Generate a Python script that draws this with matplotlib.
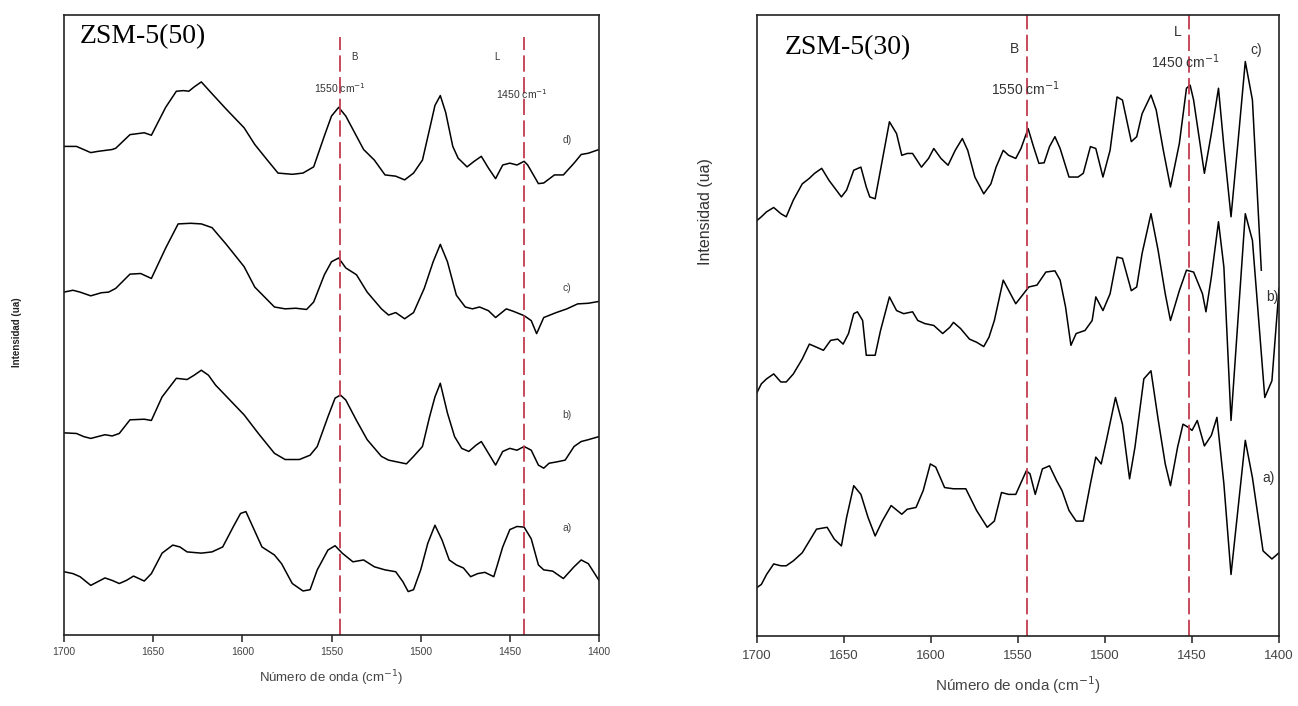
import numpy as np
import matplotlib
matplotlib.use("Agg")
import matplotlib.pyplot as plt

plt.rcParams['font.family'] = ['Liberation Sans', 'DejaVu Sans']

# ---- ZSM-5(50) spectra (wavenumber, intensity in arbitrary units) ----
d50_x = [1700, 1693, 1685, 1681, 1673, 1671, 1663, 1655, 1651, 1643, 1637, 1633, 1630, 1627, 1623,
         1617, 1609, 1599, 1593, 1586, 1580, 1572, 1566, 1560, 1554, 1550, 1546, 1542, 1532, 1526,
         1520, 1514, 1509, 1504, 1499, 1495, 1492, 1489, 1486, 1482, 1479, 1474, 1470, 1466, 1462,
         1458, 1454, 1450, 1446, 1442, 1440, 1434, 1431, 1425, 1420, 1414, 1410, 1406, 1400]
d50_y = [78.8, 78.8, 77.8, 78.0, 78.3, 78.5, 80.7, 81.0, 80.6, 85.1, 87.7, 87.8, 87.7, 88.4, 89.2,
         87.3, 84.8, 81.8, 79.1, 76.6, 74.5, 74.3, 74.5, 75.5, 80.5, 83.7, 85.1, 83.7, 78.3, 76.6,
         74.2, 74.0, 73.4, 74.5, 76.6, 81.6, 85.4, 87.0, 84.3, 78.8, 76.9, 75.5, 76.4, 77.2, 75.3,
         73.6, 75.8, 76.1, 75.8, 76.4, 75.8, 72.8, 72.9, 74.2, 74.2, 76.1, 77.5, 77.7, 78.3]

c50_x = [1700, 1695, 1691, 1685, 1679, 1675, 1671, 1663, 1657, 1651, 1643, 1636, 1629, 1623, 1617,
         1609, 1599, 1593, 1582, 1576, 1570, 1564, 1560, 1554, 1550, 1546, 1542, 1536, 1530, 1522,
         1518, 1514, 1509, 1504, 1498, 1493, 1489, 1485, 1480, 1475, 1471, 1467, 1462, 1458, 1452,
         1448, 1442, 1438, 1435, 1431, 1424, 1418, 1412, 1406, 1400]
c50_y = [55.3, 55.6, 55.3, 54.7, 55.2, 55.3, 55.9, 58.2, 58.3, 57.5, 62.4, 66.3, 66.4, 66.3, 65.7,
         63.0, 59.4, 56.1, 52.9, 52.6, 52.7, 52.5, 53.7, 58.1, 60.2, 60.8, 59.2, 58.1, 55.3, 52.6,
         51.6, 52.0, 51.0, 52.0, 55.9, 60.2, 63.0, 60.2, 54.8, 52.9, 52.6, 52.9, 52.3, 51.2, 52.6,
         52.2, 51.5, 50.7, 48.6, 51.2, 52.0, 52.6, 53.4, 53.5, 53.8]

b50_x = [1700, 1693, 1689, 1685, 1681, 1677, 1673, 1669, 1663, 1655, 1651, 1645, 1637, 1631, 1627,
         1623, 1619, 1615, 1607, 1599, 1591, 1582, 1576, 1568, 1562, 1558, 1552, 1548, 1545, 1542,
         1536, 1530, 1522, 1518, 1508, 1504, 1499, 1495, 1492, 1489, 1485, 1481, 1477, 1473, 1469,
         1466, 1462, 1458, 1454, 1450, 1446, 1442, 1438, 1434, 1431, 1428, 1424, 1419, 1414, 1410,
         1406, 1400]
b50_y = [32.6, 32.5, 32.0, 31.7, 32.0, 32.3, 32.1, 32.5, 34.7, 34.8, 34.6, 38.4, 41.4, 41.2, 41.9,
         42.7, 41.9, 40.3, 37.9, 35.5, 32.5, 29.3, 28.3, 28.3, 29.0, 30.4, 35.2, 38.2, 38.7, 37.9,
         34.6, 31.5, 28.8, 28.2, 27.6, 28.8, 30.4, 35.2, 38.4, 40.6, 35.8, 32.0, 30.1, 29.6, 30.6,
         31.2, 29.3, 27.4, 29.6, 30.1, 29.8, 30.4, 29.8, 27.4, 26.9, 27.7, 27.9, 28.2, 30.4, 31.2,
         31.5, 32.0]

a50_x = [1700, 1695, 1691, 1685, 1681, 1677, 1673, 1669, 1665, 1661, 1655, 1651, 1645, 1639, 1635,
         1631, 1623, 1617, 1611, 1605, 1601, 1598, 1595, 1589, 1582, 1578, 1572, 1566, 1562, 1558,
         1552, 1548, 1544, 1538, 1532, 1526, 1520, 1514, 1510, 1507, 1504, 1500, 1496, 1492, 1488,
         1484, 1480, 1476, 1472, 1468, 1464, 1459, 1457, 1454, 1450, 1446, 1442, 1438, 1434, 1431,
         1426, 1420, 1414, 1410, 1406, 1400]
a50_y = [10.2, 9.9, 9.4, 8.0, 8.6, 9.2, 8.8, 8.3, 8.8, 9.5, 8.7, 9.9, 13.2, 14.5, 14.2,
         13.4, 13.2, 13.4, 14.2, 17.5, 19.6, 19.9, 18.0, 14.2, 12.9, 11.5, 8.3, 7.1, 7.3, 10.5,
         13.7, 14.4, 13.2, 11.8, 12.1, 11.0, 10.5, 10.2, 8.6, 7.0, 7.3, 10.5, 14.8, 17.7, 15.3,
         12.1, 11.3, 10.8, 9.4, 9.9, 10.1, 9.4, 11.3, 14.2, 17.0, 17.5, 17.4, 15.5, 11.3, 10.5,
         10.3, 9.1, 11.0, 12.1, 11.5, 8.8]

# ---- ZSM-5(30) spectra ----
c30_x = [1700, 1697.5, 1694.5, 1690.4, 1686.3, 1683.2, 1679.1, 1674.0, 1669.9, 1666.9, 1662.8, 1658.7,
         1651.5, 1648.5, 1644.4, 1640.3, 1637.2, 1635.2, 1632.1, 1628.0, 1623.9, 1619.8, 1616.8,
         1613.7, 1610.6, 1605.5, 1601.4, 1598.4, 1594.3, 1590.2, 1586.1, 1582.0, 1578.9, 1574.8,
         1569.7, 1565.6, 1562.6, 1558.5, 1555.4, 1551.3, 1548.3, 1544.2, 1541.1, 1538.0, 1535.0,
         1531.9, 1528.8, 1525.8, 1520.7, 1515.5, 1512.5, 1508.4, 1505.3, 1501.2, 1497.1, 1493.1,
         1490.0, 1484.9, 1481.8, 1478.7, 1473.6, 1470.6, 1466.5, 1462.4, 1457.3, 1453.2, 1451.1,
         1449.1, 1442.9, 1438.9, 1434.8, 1431.7, 1427.6, 1423.5, 1419.4, 1415.3, 1410.2]
c30_y = [66.9, 67.5, 68.3, 69.0, 68.0, 67.5, 70.2, 72.8, 73.7, 74.5, 75.3, 73.4,
         70.7, 71.8, 75.0, 75.5, 72.3, 70.7, 70.4, 76.6, 82.8, 80.9, 77.4,
         77.7, 77.7, 75.5, 76.9, 78.5, 76.9, 75.8, 78.2, 80.1, 78.2, 73.9,
         71.2, 72.8, 75.5, 78.2, 77.4, 76.9, 78.5, 81.7, 78.8, 76.1, 76.2,
         78.8, 80.4, 78.5, 73.9, 73.9, 74.5, 78.8, 78.5, 73.9, 78.2, 86.8,
         86.3, 79.6, 80.4, 84.1, 87.1, 84.7, 78.2, 72.3, 79.3, 88.2, 88.7,
         86.3, 74.5, 80.9, 88.2, 78.8, 67.5, 79.8, 92.5, 86.3, 58.9]

b30_x = [1700, 1697.5, 1694.5, 1690.4, 1686.3, 1683.2, 1679.1, 1674.0, 1669.9, 1665.8, 1661.8, 1657.7,
         1653.6, 1650.5, 1647.4, 1644.4, 1642.3, 1639.3, 1637.2, 1632.1, 1629.0, 1623.9, 1619.8,
         1615.7, 1610.6, 1607.6, 1603.5, 1598.4, 1593.3, 1589.2, 1587.1, 1583.0, 1577.9, 1573.8,
         1569.7, 1566.7, 1563.6, 1558.5, 1551.3, 1543.8, 1539.1, 1534.0, 1528.8, 1525.8, 1522.7,
         1519.6, 1516.6, 1511.5, 1507.4, 1505.3, 1501.2, 1497.1, 1493.1, 1490.0, 1484.9, 1481.8,
         1478.7, 1473.6, 1469.5, 1465.4, 1462.4, 1457.3, 1453.2, 1449.1, 1444.0, 1442.0, 1438.9,
         1434.8, 1431.7, 1427.6, 1419.4, 1415.3, 1408.2, 1404.1, 1400]
b30_y = [39.2, 40.6, 41.4, 42.2, 40.9, 40.9, 42.2, 44.6, 47.0, 46.5, 46.0, 47.6,
         47.8, 47.0, 48.7, 51.9, 52.2, 50.8, 45.2, 45.2, 49.2, 54.6, 52.4,
         51.9, 52.2, 50.8, 50.3, 50.0, 48.7, 49.7, 50.5, 49.5, 47.8, 47.3,
         46.6, 48.1, 50.8, 57.3, 53.5, 56.2, 56.5, 58.6, 58.8, 57.3, 53.0,
         46.8, 48.7, 49.2, 50.8, 54.6, 52.4, 55.1, 61.0, 60.8, 55.6, 56.2,
         61.6, 68.0, 62.1, 55.1, 50.8, 55.6, 58.9, 58.6, 55.1, 52.2, 57.8,
         66.7, 59.4, 34.7, 68.0, 63.7, 38.4, 41.1, 56.0]

a30_x = [1700, 1697.5, 1694.5, 1690.4, 1686.3, 1683.2, 1679.1, 1674.0, 1669.9, 1665.8, 1659.7, 1655.6,
         1651.5, 1648.5, 1644.4, 1640.3, 1636.2, 1632.1, 1628.0, 1622.9, 1616.8, 1613.7, 1608.6,
         1604.5, 1600.4, 1597.3, 1592.2, 1587.1, 1580.0, 1573.8, 1567.7, 1563.6, 1559.5, 1555.4,
         1551.3, 1545.2, 1543.1, 1540.1, 1536.0, 1531.9, 1527.8, 1524.7, 1520.7, 1516.6, 1512.5,
         1508.4, 1505.3, 1502.2, 1499.2, 1494.0, 1490.0, 1485.9, 1482.8, 1477.7, 1473.6, 1469.5,
         1465.4, 1462.4, 1458.3, 1455.2, 1452.2, 1450.0, 1447.0, 1442.9, 1438.9, 1435.7, 1431.7,
         1427.6, 1423.5, 1419.4, 1415.3, 1409.2, 1404.1, 1400]
a30_y = [7.8, 8.3, 9.9, 11.6, 11.3, 11.3, 12.1, 13.4, 15.3, 17.2, 17.5, 15.6,
         14.5, 19.1, 24.2, 22.8, 19.1, 16.1, 18.5, 21.0, 19.6, 20.4, 20.7,
         23.4, 27.7, 27.2, 23.9, 23.7, 23.7, 20.2, 17.5, 18.5, 23.1, 22.8,
         22.8, 26.6, 26.1, 22.8, 26.9, 27.4, 25.0, 23.4, 20.2, 18.5, 18.5,
         24.5, 28.8, 27.7, 31.5, 38.4, 34.1, 25.3, 30.4, 41.4, 42.7, 34.9,
         27.7, 24.2, 30.4, 34.1, 33.6, 33.1, 34.7, 30.6, 32.3, 35.2, 24.5,
         9.9, 20.7, 31.5, 25.5, 13.7, 12.4, 13.4]

ticks = [1700, 1650, 1600, 1550, 1500, 1450, 1400]
lines50 = [1545, 1442]
lines30 = [1545, 1452]
dash_col = '#c23a4e'

fig = plt.figure(figsize=(12.98, 7.06), dpi=100)
ax1 = fig.add_axes([0.0493, 0.1006, 0.4122, 0.8782])
ax2 = fig.add_axes([0.5832, 0.0992, 0.4022, 0.8796])

for ax in (ax1, ax2):
    ax.set_xlim(1700, 1400)
    ax.set_ylim(0, 100)
    ax.set_xticks(ticks)
    ax.set_yticks([])
    for s in ax.spines.values():
        s.set_linewidth(1.2)
        s.set_color('#222222')
    ax.tick_params(axis='x', direction='out', length=5, width=1.1, colors='#222222')

# left panel
for xs, ys in ((d50_x, d50_y), (c50_x, c50_y), (b50_x, b50_y), (a50_x, a50_y)):
    ax1.plot(xs, ys, color='black', lw=1.1)
for xv in lines50:
    ax1.axvline(xv, ymin=0, ymax=0.965, color=dash_col, lw=1.3, dashes=(9, 3))
ax1.tick_params(axis='x', labelsize=7.5, labelcolor='#444444', pad=4)
ax1.set_xlabel('Número de onda (cm$^{-1}$)', fontsize=9.5, color='#444444', labelpad=8)
ax1.text(1691, 96.5, 'ZSM-5(50)', family='Liberation Serif', fontsize=20, va='center', ha='left')
ax1.text(1537, 93.2, 'B', fontsize=7, ha='center', va='center', color='#333333')
ax1.text(1545, 88.2, '1550 cm$^{-1}$', fontsize=7.5, ha='center', va='center', color='#333333')
ax1.text(1457, 93.2, 'L', fontsize=7, ha='center', va='center', color='#333333')
ax1.text(1443, 87.2, '1450 cm$^{-1}$', fontsize=7.5, ha='center', va='center', color='#333333')
for lab, yv in (('d)', 79.8), ('c)', 56.0), ('b)', 35.5), ('a)', 17.2)):
    ax1.text(1418, yv, lab, fontsize=7.5, ha='center', va='center', color='#444444')
fig.text(0.013, 0.53, 'Intensidad (ua)', rotation=90, fontsize=7, fontweight='bold',
         ha='center', va='center', color='#222222')

# right panel
for xs, ys in ((c30_x, c30_y), (b30_x, b30_y), (a30_x, a30_y)):
    ax2.plot(xs, ys, color='black', lw=1.1)
for xv in lines30:
    ax2.axvline(xv, ymin=0, ymax=1, color=dash_col, lw=1.3, dashes=(9, 3))
ax2.tick_params(axis='x', labelsize=9.5, labelcolor='#444444', pad=5)
ax2.set_xlabel('Número de onda (cm$^{-1}$)', fontsize=11, color='#444444', labelpad=9)
ax2.text(1684, 94.7, 'ZSM-5(30)', family='Liberation Serif', fontsize=20, va='center', ha='left')
ax2.text(1552, 94.6, 'B', fontsize=10, ha='center', va='center', color='#333333')
ax2.text(1546, 88.2, '1550 cm$^{-1}$', fontsize=10, ha='center', va='center', color='#333333')
ax2.text(1458, 97.3, 'L', fontsize=10, ha='center', va='center', color='#333333')
ax2.text(1454, 92.5, '1450 cm$^{-1}$', fontsize=10, ha='center', va='center', color='#333333')
for lab, xv, yv in (('c)', 1413, 94.4), ('b)', 1404, 54.6), ('a)', 1406, 25.5)):
    ax2.text(xv, yv, lab, fontsize=10, ha='center', va='center', color='#333333')
fig.text(0.5435, 0.70, 'Intensidad (ua)', rotation=90, fontsize=11.5,
         ha='center', va='center', color='#333333')

fig.savefig('out.png', dpi=100, facecolor='white')
